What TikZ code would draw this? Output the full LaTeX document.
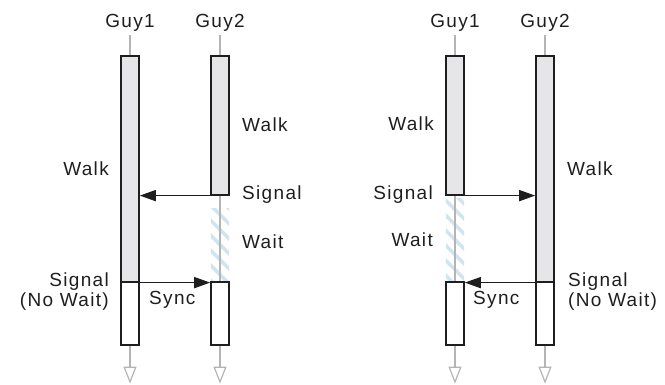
\documentclass[tikz,border=0pt]{standalone}
\usepackage{fontspec}
\setmainfont[LetterSpace=7]{Liberation Sans}
\usetikzlibrary{arrows.meta}
\definecolor{txt}{RGB}{30,30,30}
\definecolor{boxc}{RGB}{30,30,30}
\definecolor{boxfill}{RGB}{230,230,232}
\definecolor{lifec}{RGB}{180,180,180}
\definecolor{hatchc}{RGB}{210,228,238}
\begin{document}
\begin{tikzpicture}[x=1pt,y=-1pt,
  lbl/.style={font=\fontsize{19}{22}\selectfont, text=txt, inner sep=0pt},
  graybox/.style={draw=boxc, line width=1.6pt, fill=boxfill, minimum width=18pt, inner sep=0pt, anchor=north},
  whitebox/.style={graybox, fill=white},
  waitbox/.style={minimum width=18pt, inner sep=0pt, anchor=north},
  life/.style={draw=lifec, line width=1.5pt},
  msg/.style={draw=boxc, line width=1.6pt, -{Triangle[length=16pt,width=11pt]}},
  endarr/.style={life, -{Triangle[open, length=17pt, width=13pt, line width=1.2pt]}},
  hatchline/.style={draw=hatchc, line width=3.5pt}
]
\useasboundingbox (0,0) rectangle (665,384);

% ---------- left diagram ----------
\node[lbl, anchor=base] (G1) at (130,27) {Guy1};
\node[lbl, anchor=base] (G2) at (220,27) {Guy2};

\node[waitbox, minimum height=73pt] (L2w) at (220,208) {};
\begin{scope}
  \clip (L2w.north west) rectangle (L2w.south east);
  \begin{scope}[shift={(L2w.center)}]
    \foreach \k in {-105,-90,...,105} \draw[hatchline] (-30,\k-30) -- (30,\k+30);
  \end{scope}
\end{scope}

\draw[life] (130,55) -- ++(0,-20);
\draw[life] (220,55) -- ++(0,-20);

\node[graybox, minimum height=226pt] (L1a) at (130,55) {};
\node[whitebox, minimum height=63pt] (L1b) at (130,281) {};
\node[graybox, minimum height=139pt] (L2a) at (220,55) {};
\node[whitebox, minimum height=63pt] (L2b) at (220,281) {};

\draw[life] (L2a.south) -- (L2b.north);
\draw[endarr] (L1b.south) -- ++(0,38);
\draw[endarr] (L2b.south) -- ++(0,38);

\draw[msg] (L2a.south west) -- (L2a.south west -| L1a.east);
\draw[msg] (L1a.south east) -- (L1a.south east -| L2b.west);

\node[lbl, anchor=base east] (lwalk1) at (109,175) {Walk};
\node[lbl, anchor=base east] (lsig1) at (109,286) {Signal};
\node[lbl, anchor=base east] (lnw1) at (109,306) {(No Wait)};
\node[lbl, anchor=base west] (lsync) at (149,304) {Sync};
\node[lbl, anchor=base west] (lwalk2) at (242,131) {Walk};
\node[lbl, anchor=base west] (lsig2) at (242,199) {Signal};
\node[lbl, anchor=base west] (lwait) at (242,248) {Wait};

% ---------- right diagram ----------
\node[lbl, anchor=base] (H1) at (455,27) {Guy1};
\node[lbl, anchor=base] (H2) at (545,27) {Guy2};

\node[waitbox, minimum height=83pt] (R1w) at (455,198) {};
\begin{scope}
  \clip (R1w.north west) rectangle (R1w.south east);
  \begin{scope}[shift={(R1w.center)}]
    \foreach \k in {-105,-90,...,105} \draw[hatchline] (-30,\k-30) -- (30,\k+30);
  \end{scope}
\end{scope}

\draw[life] (455,55) -- ++(0,-20);
\draw[life] (545,55) -- ++(0,-20);

\node[graybox, minimum height=139pt] (R1a) at (455,55) {};
\node[whitebox, minimum height=63pt] (R1b) at (455,281) {};
\node[graybox, minimum height=226pt] (R2a) at (545,55) {};
\node[whitebox, minimum height=63pt] (R2b) at (545,281) {};

\draw[life] (R1a.south) -- (R1b.north);
\draw[endarr] (R1b.south) -- ++(0,38);
\draw[endarr] (R2b.south) -- ++(0,38);

\draw[msg] (R1a.south east) -- (R1a.south east -| R2a.west);
\draw[msg] (R2a.south west) -- (R2a.south west -| R1b.east);

\node[lbl, anchor=base east] (rwalk1) at (434,130) {Walk};
\node[lbl, anchor=base east] (rsig1) at (433,199) {Signal};
\node[lbl, anchor=base east] (rwait) at (433,246) {Wait};
\node[lbl, anchor=base west] (rsync) at (473,304) {Sync};
\node[lbl, anchor=base west] (rwalk2) at (567,175) {Walk};
\node[lbl, anchor=base west] (rsig2) at (568,286) {Signal};
\node[lbl, anchor=base west] (rnw2) at (568,306) {(No Wait)};
\end{tikzpicture}
\end{document}
